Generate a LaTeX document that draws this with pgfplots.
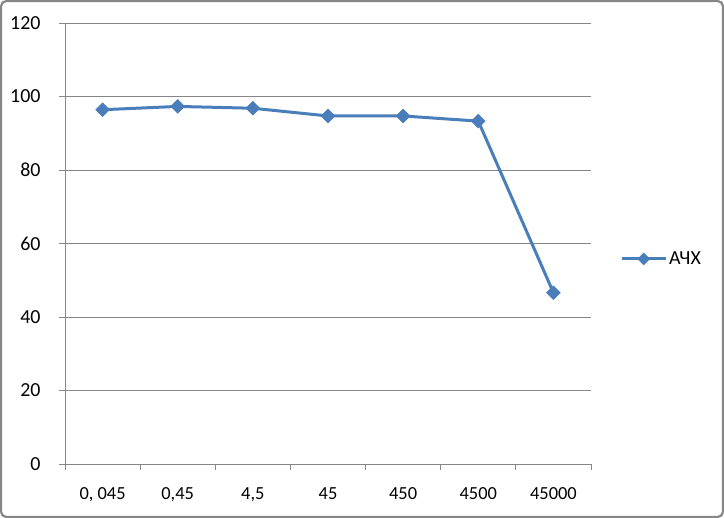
\documentclass[border=0pt]{standalone}
\usepackage{fontspec}
\setmainfont{Carlito}
\usepackage{pgfplots}
\pgfplotsset{compat=1.18}
\definecolor{serblue}{HTML}{4A7EBB}
\definecolor{gridgray}{HTML}{868686}
\begin{document}
\begin{tikzpicture}
\draw[gridgray, line width=2.2bp, rounded corners=5bp] (1.1bp,1.1bp) rectangle (722.9bp,516.9bp);
\begin{axis}[
  at={(65bp,54bp)}, anchor=south west,
  scale only axis, width=526bp, height=441bp,
  xmin=-0.5, xmax=6.5, ymin=0, ymax=120,
  ytick={0,20,...,120},
  xtick={0,...,6},
  xticklabels={{0, 045},{0,45},{4,5},45,450,4500,45000},
  minor xtick={-0.5,0.5,...,6.5},
  axis x line*=bottom, axis y line*=left,
  axis line style={-, draw=gridgray, line width=0.8bp},
  ymajorgrids, grid style={draw=gridgray, line width=0.8bp},
  tick align=outside,
  major tick length=6bp, minor tick length=6bp,
  x tick style={draw=none},
  minor x tick style={draw=gridgray, line width=0.8bp},
  y tick style={draw=gridgray, line width=0.8bp},
  tick label style={text=black},
  /pgf/number format/assume math mode=true,
  xticklabel style={yshift=-14bp, font=\fontsize{18.5}{22}\selectfont},
  yticklabel style={xshift=-15bp, font=\fontsize{20}{24}\selectfont},
  legend style={at={(1,0.465)}, anchor=west, xshift=29bp, draw=none, fill=none,
     font=\fontsize{20}{24}\selectfont, inner sep=0pt},
  legend image code/.code={\draw[mark repeat=2, mark phase=2, #1, mark size=4.2bp] plot coordinates {(0bp,0bp) (22bp,0bp) (44bp,0bp)};},
]
\addplot[color=serblue, line width=3bp, mark=square*, mark size=4.9bp,
  mark options={rotate=45, solid, line width=0.5bp, fill=serblue}]
  coordinates {(0,96.4) (1,97.3) (2,96.8) (3,94.7) (4,94.7) (5,93.3) (6,46.6)};
\addlegendentry{АЧХ}
\end{axis}
\pgfresetboundingbox
\path[use as bounding box] (0bp,0bp) rectangle (724bp,518bp);
\end{tikzpicture}
\end{document}
